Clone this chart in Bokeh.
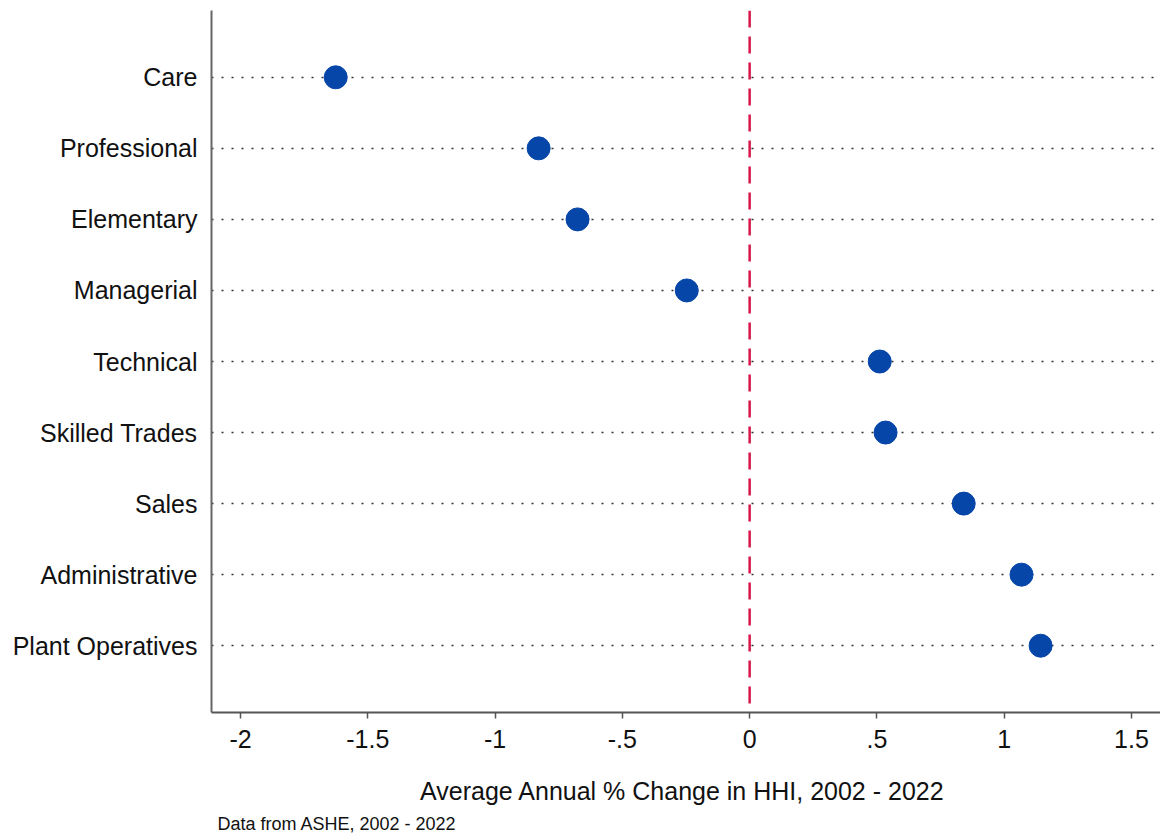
from bokeh.plotting import figure
from bokeh.models import Range1d, FixedTicker, Span, Title, ColumnDataSource
from bokeh.embed import file_html
from bokeh.resources import INLINE

categories = ["Care", "Professional", "Elementary", "Managerial", "Technical",
              "Skilled Trades", "Sales", "Administrative", "Plant Operatives"]
values = [-1.626, -0.829, -0.676, -0.247, 0.511, 0.534, 0.841, 1.068, 1.143]
x_ticks = [-2, -1.5, -1, -0.5, 0, 0.5, 1, 1.5]
x_tick_labels = ["-2", "-1.5", "-1", "-.5", "0", ".5", "1", "1.5"]

n = len(categories)
ypos = [n - i for i in range(n)]  # Care at top

FONT = "Liberation Sans"

p = figure(width=1160, height=838, output_backend="svg", toolbar_location=None,
           x_range=Range1d(-2.114, 1.614), y_range=Range1d(0.06, n + 0.94),
           min_border_left=211, min_border_top=10, min_border_right=0,
           min_border_bottom=124)
p.outline_line_color = None
p.background_fill_color = "white"
p.border_fill_color = "white"

# axes
p.xaxis.ticker = FixedTicker(ticks=x_ticks)
p.xaxis.major_label_overrides = {t: l for t, l in zip(x_ticks, x_tick_labels)}
p.xaxis.minor_tick_line_color = None
p.xaxis.major_tick_in = 0
p.xaxis.major_tick_out = 6
p.xaxis.major_tick_line_color = "#555555"
p.xaxis.major_tick_line_width = 1.5
p.xaxis.axis_line_color = "#555555"
p.xaxis.axis_line_width = 2
p.xaxis.major_label_text_font = FONT
p.xaxis.major_label_text_font_size = "25px"
p.xaxis.major_label_text_color = "#111111"
p.xaxis.major_label_standoff = 11
p.xaxis.axis_label = "Average Annual % Change in  HHI, 2002 - 2022"
p.xaxis.axis_label_text_font = FONT
p.xaxis.axis_label_text_font_size = "25px"
p.xaxis.axis_label_text_font_style = "normal"
p.xaxis.axis_label_text_color = "#111111"
p.xaxis.axis_label_standoff = 26

p.yaxis.ticker = FixedTicker(ticks=ypos)
p.yaxis.major_label_overrides = {y: c for y, c in zip(ypos, categories)}
p.yaxis.minor_tick_line_color = None
p.yaxis.major_tick_in = 0
p.yaxis.major_tick_out = 0
p.yaxis.axis_line_color = "#666666"
p.yaxis.axis_line_width = 2
p.yaxis.major_label_text_font = FONT
p.yaxis.major_label_text_font_size = "25px"
p.yaxis.major_label_text_color = "#111111"
p.yaxis.major_label_standoff = 14

# grids
p.xgrid.grid_line_color = None
p.ygrid.ticker = FixedTicker(ticks=ypos)
p.ygrid.grid_line_color = "#333333"
p.ygrid.grid_line_width = 1.5
p.ygrid.grid_line_dash = "2 8"

# zero line
p.add_layout(Span(location=0, dimension="height", line_color="#d6174a",
                  line_width=2.5, line_dash="17 9"))

src = ColumnDataSource(dict(x=values, y=ypos, cat=categories))
p.scatter("x", "y", source=src, size=23, fill_color="#0646a9",
          line_color="#0646a9")

p.add_layout(Title(text="Data from ASHE, 2002 - 2022", text_font=FONT,
                   text_font_size="18px", text_font_style="normal",
                   text_color="#111111", align="left", offset=6,
                   standoff=9), "below")

open("out.html", "w").write(file_html(p, INLINE))
